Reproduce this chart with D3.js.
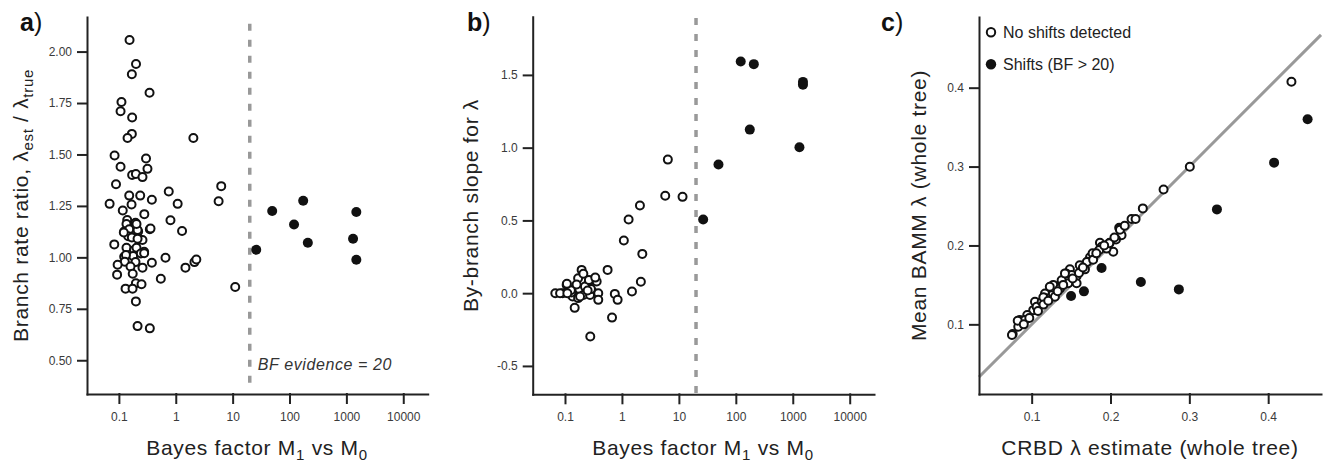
<!DOCTYPE html>
<html>
<head>
<meta charset="utf-8">
<script src="https://cdn.jsdelivr.net/npm/d3@7"></script>
<style>
	body { margin: 0; background: #fff; }
	svg { font-family: "Liberation Sans", Arial, sans-serif; }
	.axis path, .axis line { stroke: #222; stroke-width: 2; stroke-linecap: square; }
	.axis text { fill: #3a3a3a; font-size: 12px; }
	.title { font-size: 21px; fill: #222; letter-spacing: 0.7px; }
</style>
</head>
<body>
<script>
// panel a: branch rate ratio against bayes factor
const aOpenBF = [0.154, 0.20, 0.169, 0.346, 0.111, 0.107, 0.171, 0.169, 0.142, 2.04, 0.084, 0.30, 0.107, 0.318, 0.171, 0.199, 0.26, 0.089, 6.3, 5.67, 0.152, 0.237, 0.38, 0.753, 0.0687, 0.167, 1.08, 0.117, 0.28, 0.807, 0.14, 0.136, 0.196, 0.19, 0.35, 0.124, 0.152, 0.218, 1.29, 0.146, 0.169, 0.233, 0.26, 0.083, 0.136, 0.185, 0.278, 0.124, 0.178, 0.66, 0.204, 0.213, 0.122, 0.213, 0.204, 0.133, 0.243, 0.127, 0.196, 0.16, 0.26, 0.095, 0.38, 0.175, 0.093, 0.546, 0.199, 0.25, 0.131, 0.174, 0.199, 0.213, 0.35, 1.48, 2.13, 2.3, 11.1, 0.36, 0.278]
const aOpenRatio = [2.056, 1.94, 1.89, 1.80, 1.755, 1.71, 1.68, 1.60, 1.58, 1.58, 1.495, 1.48, 1.44, 1.43, 1.40, 1.405, 1.39, 1.355, 1.346, 1.273, 1.30, 1.30, 1.28, 1.32, 1.26, 1.257, 1.26, 1.228, 1.21, 1.18, 1.181, 1.162, 1.168, 1.146, 1.137, 1.126, 1.136, 1.126, 1.128, 1.103, 1.097, 1.087, 1.084, 1.063, 1.047, 1.035, 1.027, 1.003, 1.006, 0.998, 1.047, 1.09, 1.121, 1.133, 1.162, 1.011, 1.019, 0.979, 0.977, 0.956, 0.95, 0.964, 0.974, 0.92, 0.916, 0.896, 0.874, 0.869, 0.848, 0.848, 0.786, 0.666, 0.655, 0.95, 0.977, 0.99, 0.856, 1.14, 1.02]
const aShiftBF = [26, 49.6, 120, 174, 210, 1310, 1496, 1496]
const aShiftRatio = [1.037, 1.225, 1.16, 1.275, 1.071, 1.09, 1.22, 0.988]

// panel b: by-branch slope against bayes factor
const bOpenBF = [6.4, 5.76, 11.6, 2.07, 1.31, 1.08, 2.28, 2.15, 1.5, 0.75, 0.84, 0.67, 0.56, 0.278, 0.148, 0.0676, 0.091, 0.107, 0.114, 0.15, 0.136, 0.17, 0.178, 0.17, 0.196, 0.21, 0.263, 0.336, 0.36, 0.246, 0.314, 0.384, 0.384, 0.21, 0.082, 0.13, 0.184, 0.275, 0.286, 0.224, 0.127, 0.16, 0.25, 0.263, 0.108, 0.11, 0.34]
const bOpenSlope = [0.918, 0.669, 0.662, 0.602, 0.506, 0.362, 0.27, 0.078, 0.011, -0.005, -0.046, -0.168, 0.16, -0.298, -0.101, 0, 0, 0.057, 0, 0.027, -0.023, -0.034, 0.028, 0.103, 0.16, 0.133, 0.08, 0.103, 0.08, 0.011, 0.004, 0, -0.046, -0.012, 0, 0.004, -0.023, -0.012, 0.028, 0.045, 0.02, 0.06, 0.018, 0.09, 0.064, 0, 0.107]
const bShiftBF = [122, 207, 1510, 1510, 176, 1310, 49.6, 26.7]
const bShiftSlope = [1.592, 1.574, 1.452, 1.432, 1.124, 1.003, 0.884, 0.506]

// panel c: BAMM lambda against CRBD lambda
const cOpenCrbd = [0.4295, 0.3006, 0.2673, 0.241, 0.2267, 0.2318, 0.211, 0.212, 0.214, 0.207, 0.199, 0.2035, 0.1866, 0.1887, 0.1857, 0.195, 0.174, 0.1705, 0.161, 0.1676, 0.157, 0.1485, 0.1435, 0.1464, 0.138, 0.1317, 0.1274, 0.1253, 0.1169, 0.1105, 0.1042, 0.102, 0.0944, 0.085, 0.083, 0.0759, 0.1295, 0.119, 0.1063, 0.0915, 0.157, 0.1507, 0.136, 0.1127, 0.1773, 0.0823, 0.075, 0.1148, 0.123, 0.1422, 0.17, 0.1984, 0.212, 0.09, 0.097, 0.108, 0.115, 0.121, 0.133, 0.14, 0.152, 0.16, 0.165, 0.178, 0.182, 0.192, 0.205, 0.218]
const cOpenBamm = [0.4075, 0.2997, 0.271, 0.247, 0.2335, 0.2335, 0.2224, 0.2217, 0.213, 0.2077, 0.2034, 0.192, 0.2034, 0.1984, 0.1942, 0.196, 0.185, 0.1794, 0.175, 0.1697, 0.161, 0.1697, 0.1646, 0.152, 0.156, 0.1477, 0.15, 0.137, 0.139, 0.1257, 0.1286, 0.118, 0.1118, 0.1054, 0.097, 0.0877, 0.135, 0.133, 0.1223, 0.1054, 0.152, 0.1625, 0.1456, 0.1286, 0.19, 0.1046, 0.0864, 0.1342, 0.1477, 0.1646, 0.179, 0.2027, 0.22, 0.1, 0.108, 0.117, 0.125, 0.13, 0.142, 0.15, 0.158, 0.165, 0.172, 0.182, 0.19, 0.2, 0.21, 0.225]
const cShiftCrbd = [0.45, 0.4075, 0.335, 0.1887, 0.2385, 0.2867, 0.15, 0.1663]
const cShiftBamm = [0.36, 0.305, 0.2457, 0.1714, 0.1536, 0.1443, 0.136, 0.1418]

// tick values
const bfTicks = [0.1, 1, 10, 100, 1000, 10000]
const aRatioTicks = [0.5, 0.75, 1, 1.25, 1.5, 1.75, 2]
const bSlopeTicks = [-0.5, 0, 0.5, 1, 1.5]
const cLambdaTicks = [0.1, 0.2, 0.3, 0.4]
const bfThreshold = 20

var svg = d3.select("body").append("svg")
	.attr("width", 1323)
	.attr("height", 462);

// zip two arrays into point objects
function zip(xs, ys) {
	return xs.map((v, i) => ({ x: v, y: ys[i] }));
}

function fixed(n) {
	return d => d.toFixed(n);
}

// draws both axes for one panel
function drawAxes(x, y, xTicks, yTicks, xFmt, yFmt) {
	var bottom = y.range()[0];
	var left = x.range()[0];
	svg.append("g")
		.attr("class", "axis")
		.attr("transform", "translate(0," + bottom + ")")
		.call(d3.axisBottom(x).tickValues(xTicks).tickFormat(xFmt).tickSize(9).tickPadding(9).tickSizeOuter(0));
	svg.append("g")
		.attr("class", "axis")
		.attr("transform", "translate(" + left + ",0)")
		.call(d3.axisLeft(y).tickValues(yTicks).tickFormat(yFmt).tickSize(9).tickPadding(6).tickSizeOuter(0));
}

function drawPoints(x, y, pts, filled) {
	svg.append("g").selectAll("circle")
		.data(pts)
		.enter().append("circle")
		.attr("cx", d => x(d.x))
		.attr("cy", d => y(d.y))
		.attr("r", filled ? 5 : 4)
		.attr("fill", filled ? "#111" : "#fff")
		.attr("stroke", filled ? "none" : "#111")
		.attr("stroke-width", 2);
}

// panel letter: bold letter plus plain paren
function panelLabel(px, py, letter) {
	var t = svg.append("text")
		.attr("x", px)
		.attr("y", py)
		.attr("font-size", "25px")
		.attr("fill", "#111");
	t.append("tspan").attr("font-weight", "bold").text(letter);
	t.append("tspan").text(")");
}

// title with subscripts, parts = [[text, isSub, dy], ...]
function richText(t, parts) {
	parts.forEach(p => {
		if (p[1]) {
			t.append("tspan").attr("dy", 5).attr("font-size", "15px").text(p[0]);
		} else {
			t.append("tspan").attr("dy", p[2] || 0).text(p[0]);
		}
	});
}

function bfTitle(cx) {
	var t = svg.append("text")
		.attr("class", "title")
		.attr("x", cx)
		.attr("y", 455)
		.attr("text-anchor", "middle");
	richText(t, [["Bayes factor M", false], ["1", true], [" vs M", false, -5], ["0", true]]);
}

function yTitle(bx, cy, parts) {
	var t = svg.append("text")
		.attr("class", "title")
		.attr("transform", "translate(" + bx + "," + cy + ") rotate(-90)")
		.attr("text-anchor", "middle");
	richText(t, parts);
}

var bfFmt = d => String(d);

// ---------- panel a ----------
var xa = d3.scaleLog().domain([0.0275, 26900]).range([87, 427.7]);
var ya = d3.scaleLinear().domain([0.336, 2.168]).range([394, 17]);

svg.append("line")
	.attr("x1", xa(bfThreshold)).attr("x2", xa(bfThreshold))
	.attr("y1", ya(2.135)).attr("y2", ya(0.39))
	.attr("stroke", "#999").attr("stroke-width", 3.5)
	.attr("stroke-dasharray", "7,9");

drawAxes(xa, ya, bfTicks, aRatioTicks, bfFmt, fixed(2));
drawPoints(xa, ya, zip(aOpenBF, aOpenRatio), false);
drawPoints(xa, ya, zip(aShiftBF, aShiftRatio), true);

svg.append("text")
	.attr("x", xa(bfThreshold) + 8)
	.attr("y", 370)
	.attr("font-size", "16px")
	.attr("font-style", "italic")
	.attr("fill", "#333")
	.attr("letter-spacing", "0.6px")
	.text("BF evidence = " + bfThreshold);

panelLabel(20, 31, "a");
bfTitle(257);
yTitle(28, 205.5, [["Branch rate ratio, λ", false], ["est", true], [" / λ", false, -5], ["true", true]]);

// ---------- panel b ----------
var xb = d3.scaleLog().domain([0.0271, 26700]).range([532.7, 874]);
var yb = d3.scaleLinear().domain([-0.695, 1.9]).range([394.3, 16.7]);

svg.append("line")
	.attr("x1", xb(bfThreshold)).attr("x2", xb(bfThreshold))
	.attr("y1", 18).attr("y2", 394)
	.attr("stroke", "#999").attr("stroke-width", 3.5)
	.attr("stroke-dasharray", "7,9");

drawAxes(xb, yb, bfTicks, bSlopeTicks, bfFmt, fixed(1));
drawPoints(xb, yb, zip(bOpenBF, bOpenSlope), false);
drawPoints(xb, yb, zip(bShiftBF, bShiftSlope), true);

panelLabel(467, 31, "b");
bfTitle(703);
yTitle(478, 205.5, [["By-branch slope for λ", false]]);

// ---------- panel c ----------
var xc = d3.scaleLinear().domain([0.0332, 0.467]).range([979, 1321]);
var yc = d3.scaleLinear().domain([0.0117, 0.4896]).range([394, 17]);

// 1:1 line
var lo = xc.domain()[0], hi = xc.domain()[1];
svg.append("line")
	.attr("x1", xc(lo)).attr("y1", yc(lo))
	.attr("x2", xc(hi)).attr("y2", yc(hi))
	.attr("stroke", "#999").attr("stroke-width", 3);

drawAxes(xc, yc, cLambdaTicks, cLambdaTicks, fixed(1), fixed(1));
drawPoints(xc, yc, zip(cOpenCrbd, cOpenBamm), false);
drawPoints(xc, yc, zip(cShiftCrbd, cShiftBamm), true);

// legend
var legend = [["No shifts detected", false], ["Shifts (BF > " + bfThreshold + ")", true]];
legend.forEach((l, i) => {
	var ly = 32.3 + i * 32;
	svg.append("circle")
		.attr("cx", 991).attr("cy", ly)
		.attr("r", l[1] ? 5.2 : 4.2)
		.attr("fill", l[1] ? "#111" : "#fff")
		.attr("stroke", l[1] ? "none" : "#111")
		.attr("stroke-width", 2);
	svg.append("text")
		.attr("x", 1003).attr("y", ly + 5.5)
		.attr("font-size", "16px")
		.attr("fill", "#222")
		.text(l[0]);
});

panelLabel(881, 31, "c");
svg.append("text")
	.attr("class", "title")
	.attr("x", 1150).attr("y", 455)
	.attr("text-anchor", "middle")
	.text("CRBD λ estimate (whole tree)");
yTitle(926, 205.5, [["Mean BAMM λ (whole tree)", false]]);
</script>
</body>
</html>
